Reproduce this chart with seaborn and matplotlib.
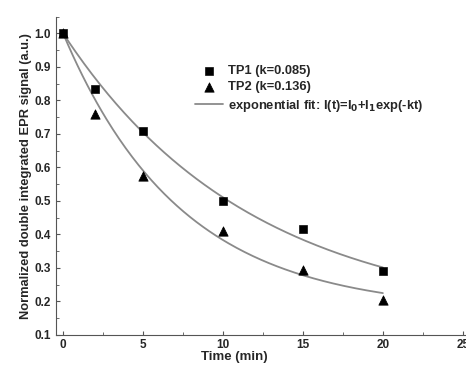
import numpy as np
import pandas as pd
import seaborn as sns
from matplotlib import pyplot as plt
from matplotlib.ticker import MultipleLocator

time = [0, 2, 5, 10, 15, 20]
tp1 = [1.0, 0.835, 0.71, 0.50, 0.415, 0.29]
tp2 = [1.0, 0.76, 0.575, 0.41, 0.295, 0.205]

# fit parameters I(t) = I0 + I1*exp(-k t)
k1, i0_1, i1_1 = 0.085, 0.145, 0.855
k2, i0_2, i1_2 = 0.136, 0.17, 0.83

sns.set_style("ticks")
plt.rcParams["font.family"] = ["Liberation Sans", "DejaVu Sans"]
plt.rcParams["font.weight"] = "bold"

f, ax = plt.subplots(figsize=(4.66, 3.7), dpi=100)

df = pd.DataFrame({"t": time, "TP1": tp1, "TP2": tp2})
tt = np.linspace(0, 20, 200)
fit = pd.DataFrame({"t": tt,
                    "f1": i0_1 + i1_1 * np.exp(-k1 * tt),
                    "f2": i0_2 + i1_2 * np.exp(-k2 * tt)})

sns.lineplot(data=fit, x="t", y="f1", color="#8a8a8a", lw=1.3, ax=ax,
             label="exponential fit: I(t)=I$_0$+I$_1$exp(-kt)")
sns.lineplot(data=fit, x="t", y="f2", color="#8a8a8a", lw=1.3, ax=ax)
sns.scatterplot(data=df, x="t", y="TP1", marker="s", color="black", s=32,
                edgecolor="black", ax=ax, label="TP1 (k=0.085)", zorder=3)
sns.scatterplot(data=df, x="t", y="TP2", marker="^", color="black", s=45,
                edgecolor="black", ax=ax, label="TP2 (k=0.136)", zorder=3)

ax.set_xlim(-0.45, 25.2)
ax.set_ylim(0.1, 1.05)
ax.xaxis.set_major_locator(MultipleLocator(5))
ax.xaxis.set_minor_locator(MultipleLocator(2.5))
ax.yaxis.set_major_locator(MultipleLocator(0.1))
ax.yaxis.set_minor_locator(MultipleLocator(0.05))
ax.tick_params(direction="in", which="both", labelsize=8.5, color="#555555")
ax.tick_params(which="major", length=3)
ax.tick_params(which="minor", length=2)
ax.tick_params(axis="x", pad=3)
for lab in ax.get_xticklabels() + ax.get_yticklabels():
    lab.set_fontweight("bold")
for s in ["left", "bottom"]:
    ax.spines[s].set_color("#555555")
sns.despine(ax=ax)

ax.set_xlabel("Time (min)", fontsize=9.5, fontweight="bold", labelpad=0)
ax.xaxis.set_label_coords(0.434, -0.052)
ax.set_ylabel("Normalized double integrated EPR signal (a.u.)", fontsize=9.3,
              fontweight="bold", labelpad=2)

h, l = ax.get_legend_handles_labels()
ax.legend([h[1], h[2], h[0]], [l[1], l[2], l[0]], frameon=False, fontsize=9.3,
          loc="upper left", bbox_to_anchor=(0.31, 0.885), handlelength=2.2,
          handletextpad=0.4, labelspacing=0.35)

plt.subplots_adjust(left=0.12, right=1.0, bottom=0.095, top=0.955)
plt.savefig("out.png")
